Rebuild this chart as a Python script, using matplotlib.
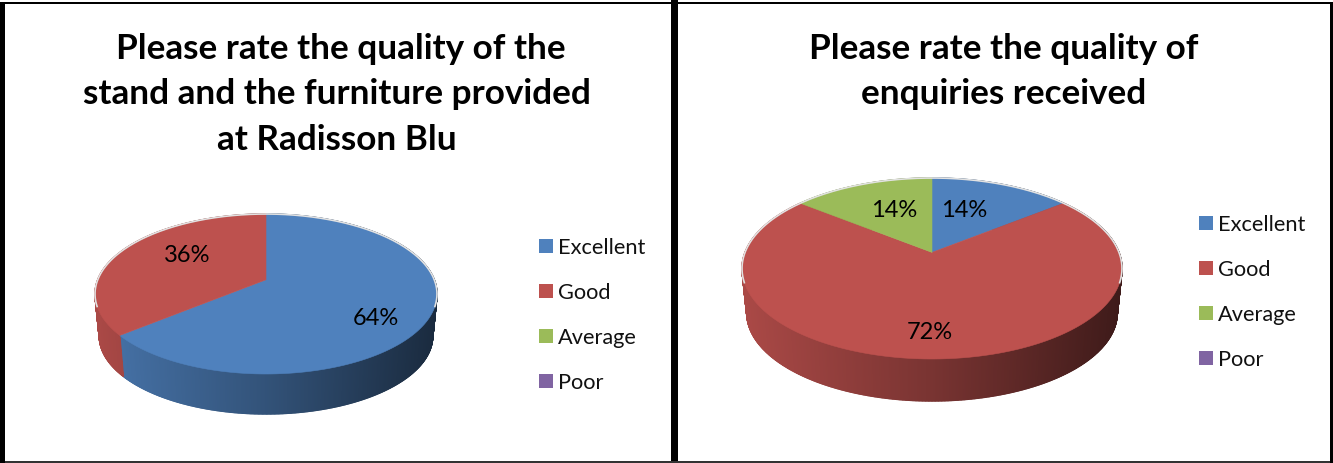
"""Two survey results drawn as tilted 3D-style pies, side by side in black frames."""

import matplotlib

matplotlib.use("Agg")
import matplotlib.pyplot as plt
import numpy as np
from matplotlib.collections import PolyCollection
from matplotlib.patches import Rectangle

plt.rcParams["font.family"] = ["Lato", "DejaVu Sans"]

categories = ["Excellent", "Good", "Average", "Poor"]
colors = ["#4f81bd", "#bd514e", "#9bbb59", "#8064a2"]

stand_values = [64, 36, 0, 0]
enquiry_values = [14, 72, 14, 0]

stand_title = ["Please rate the quality of the",
               "stand and the furniture provided",
               "at Radisson Blu"]
enquiry_title = ["Please rate the quality of",
                 "enquiries received"]


def project(theta, rim_shift):
    # clockwise from 12 o'clock on the unit circle, squeezed towards the back of the disc
    x, y = np.sin(theta), np.cos(theta)
    denom = 1 + rim_shift * y
    return x * np.sqrt(1 - rim_shift ** 2) / denom, (y + rim_shift) / denom


def draw_pie(ax, values, cx, cy, rx, ry, depth, rim_shift=0.178):
    shares = np.array(values, dtype=float) / sum(values)
    edges = np.concatenate([[0], np.cumsum(shares)]) * 2 * np.pi

    # side wall first, shaded from left to right in narrow strips
    low_rx, low_ry = rx * 0.975, ry * 0.975
    low_cy = cy + ry + depth - low_ry
    strips, strip_colors = [], []
    for start, stop, color in zip(edges[:-1], edges[1:], colors):
        if stop <= start:
            continue
        theta = np.linspace(start, stop, max(int((stop - start) * 150), 2))
        px, py = project(theta, rim_shift)
        top_x, top_y = cx + rx * px, cy - ry * py
        low_x, low_y = cx + low_rx * px, low_cy - low_ry * py
        rgb = np.array(matplotlib.colors.to_rgb(color))
        for i in range(len(theta) - 1):
            strips.append([(top_x[i], top_y[i]), (top_x[i + 1], top_y[i + 1]),
                           (low_x[i + 1], low_y[i + 1]), (low_x[i], low_y[i])])
            shade = np.interp(px[i], [-1, 0, 1], [0.9, 0.64, 0.33])
            strip_colors.append(rgb * shade)
    ax.add_collection(PolyCollection(strips, facecolors=strip_colors,
                                     edgecolors=strip_colors, linewidths=1.0))

    # pale rim along the back of the top face
    t = np.linspace(-np.pi * 0.55, np.pi * 0.55, 200)
    ax.plot(cx + rx * np.sin(t), cy - ry * np.cos(t), color="#e2e2e2", linewidth=1.2)

    hub_y = cy - ry * 0.178
    for start, stop, color in zip(edges[:-1], edges[1:], colors):
        if stop <= start:
            continue
        theta = np.linspace(start, stop, 200)
        px, py = project(theta, rim_shift)
        xs = np.concatenate([[cx], cx + rx * px])
        ys = np.concatenate([[hub_y], cy - ry * py])
        ax.fill(xs, ys, facecolor=color, edgecolor=color, linewidth=0.4)


def draw_legend(ax, swatch_x, first_y):
    for i, (name, color) in enumerate(zip(categories, colors)):
        y = first_y + i * 45
        ax.add_patch(Rectangle((swatch_x, y - 7), 14, 14, facecolor=color, edgecolor="none"))
        ax.text(swatch_x + 19, y + 1.5, name, fontsize=15.7, color="#111111", va="center", ha="left")


fig = plt.figure(figsize=(13.33, 4.64), dpi=100, facecolor="white")
ax = fig.add_axes([0, 0, 1, 1])
ax.set_xlim(0, 1333)
ax.set_ylim(464, 0)
ax.axis("off")

# frames
ax.add_patch(Rectangle((670.5, 0), 7.5, 464, facecolor="black", edgecolor="none"))
ax.add_patch(Rectangle((0, 3), 1333, 2.4, facecolor="black", edgecolor="none"))
ax.add_patch(Rectangle((0, 462), 1333, 2, facecolor="#333333", edgecolor="none"))
ax.add_patch(Rectangle((0, 3), 5, 461, facecolor="black", edgecolor="none"))
ax.add_patch(Rectangle((1330, 3), 3, 461, facecolor="black", edgecolor="none"))

draw_pie(ax, stand_values, 266, 295, 171, 80, 40)
draw_pie(ax, enquiry_values, 932, 269.5, 190, 90.5, 42, rim_shift=0.155)

# the first line of the left title sits a little right of the others
stand_title_x = [341, 337, 337]
for i, line in enumerate(stand_title):
    ax.text(stand_title_x[i], 49 + i * 45.5, line, fontsize=25.3, fontweight="bold", color="black",
            ha="center", va="center")
for i, line in enumerate(enquiry_title):
    ax.text(1004, 49 + i * 45.5, line, fontsize=25.3, fontweight="bold", color="black",
            ha="center", va="center")

# value labels
stand_label_xy = [(376, 319), (187, 255)]
enquiry_label_xy = [(964, 211), (930, 333), (894, 211)]
for value, (x, y) in zip([v for v in stand_values if v], stand_label_xy):
    ax.text(x, y, f"{value}%", fontsize=17, color="black", ha="center", va="center")
for value, (x, y) in zip([v for v in enquiry_values if v], enquiry_label_xy):
    ax.text(x, y, f"{value}%", fontsize=17, color="black", ha="center", va="center")

draw_legend(ax, 539, 247)
draw_legend(ax, 1199, 224)

fig.savefig("out.png", dpi=100)
